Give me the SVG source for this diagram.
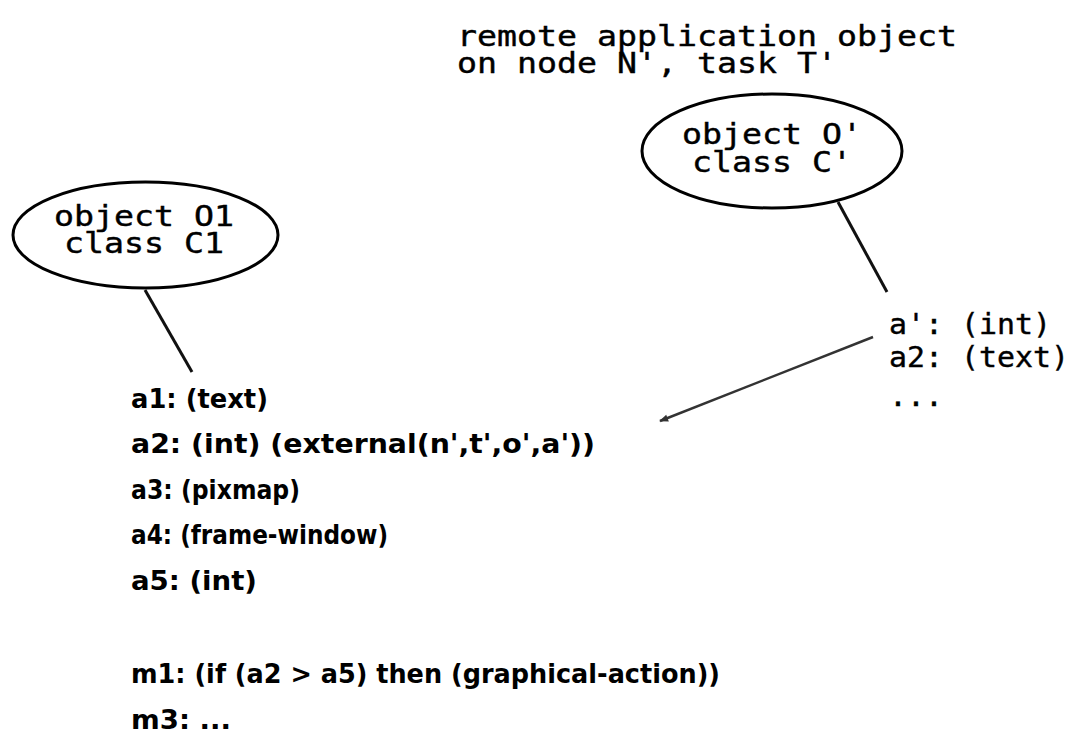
<svg xmlns="http://www.w3.org/2000/svg" width="1075" height="740" viewBox="0 0 1075 740">
  <style>
    .mono { font-family: "DejaVu Sans Mono", "Liberation Mono", monospace; font-size: 28px; fill: #000; stroke: #000; stroke-width: 0.4; }
    .node { fill: #fff; stroke: #000; stroke-width: 3; }
    .link { stroke: #111; stroke-width: 3; fill: none; }
    .attr { font-family: "DejaVu Sans", "Liberation Sans", sans-serif; font-weight: bold; font-size: 27px; fill: #000; }
  </style>
  <defs>
    <marker id="arrowhead" viewBox="0 0 10 10" refX="9" refY="5" markerWidth="12" markerHeight="9" markerUnits="userSpaceOnUse" orient="auto">
      <path d="M0,1 L10,5 L0,9 z" fill="#333"/>
    </marker>
  </defs>
  <rect width="1075" height="740" fill="#fff"/>

  <!-- caption for the remote object -->
  <g id="remote-caption">
    <text class="mono" x="457" y="46" textLength="500" lengthAdjust="spacingAndGlyphs">remote application object</text>
    <text class="mono" x="457" y="73" textLength="380" lengthAdjust="spacingAndGlyphs">on node N', task T'</text>
  </g>

  <!-- connectors -->
  <g id="connectors">
    <line class="link" x1="145" y1="290" x2="192" y2="372"/>
    <line class="link" x1="838" y1="202" x2="887" y2="292"/>
    <line x1="873" y1="337" x2="660" y2="421" stroke="#333" stroke-width="2.5" marker-end="url(#arrowhead)"/>
  </g>

  <!-- object O' -->
  <g id="node-object-o-prime">
    <ellipse class="node" cx="772" cy="151" rx="130" ry="57"/>
    <text class="mono" x="682" y="144" textLength="180" lengthAdjust="spacingAndGlyphs">object O'</text>
    <text class="mono" x="692" y="172" textLength="160" lengthAdjust="spacingAndGlyphs">class C'</text>
  </g>

  <!-- object O1 -->
  <g id="node-object-o1">
    <ellipse class="node" cx="145.5" cy="235" rx="132.5" ry="53"/>
    <text class="mono" x="54" y="226" textLength="180" lengthAdjust="spacingAndGlyphs">object O1</text>
    <text class="mono" x="64" y="253" textLength="160" lengthAdjust="spacingAndGlyphs">class C1</text>
  </g>

  <!-- attributes of the remote object -->
  <g id="remote-attributes">
    <text class="mono" x="889" y="334" textLength="162" lengthAdjust="spacingAndGlyphs">a': (int)</text>
    <text class="mono" x="889" y="367" textLength="180" lengthAdjust="spacingAndGlyphs">a2: (text)</text>
    <text class="mono" x="889" y="406" textLength="54" lengthAdjust="spacingAndGlyphs">...</text>
  </g>

  <!-- attributes and methods of O1 -->
  <g id="local-attributes">
    <text class="attr" x="131" y="408" textLength="137" lengthAdjust="spacingAndGlyphs">a1: (text)</text>
    <text class="attr" x="131" y="453" textLength="464" lengthAdjust="spacingAndGlyphs">a2: (int) (external(n',t',o',a'))</text>
    <text class="attr" x="131" y="499" textLength="169" lengthAdjust="spacingAndGlyphs">a3: (pixmap)</text>
    <text class="attr" x="131" y="544" textLength="257" lengthAdjust="spacingAndGlyphs">a4: (frame-window)</text>
    <text class="attr" x="131" y="590" textLength="126" lengthAdjust="spacingAndGlyphs">a5: (int)</text>
    <text class="attr" x="131" y="683" textLength="589" lengthAdjust="spacingAndGlyphs">m1: (if (a2 &gt; a5) then (graphical-action))</text>
    <text class="attr" x="131" y="729" textLength="100" lengthAdjust="spacingAndGlyphs">m3: ...</text>
  </g>
</svg>
